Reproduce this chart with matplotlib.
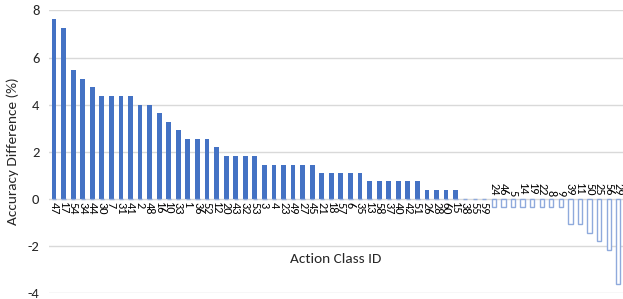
import matplotlib
matplotlib.use("Agg")
import matplotlib.pyplot as plt
import matplotlib.transforms as mtransforms

classes = ["47","17","54","34","44","30","7","31","41","2","48","16","10","33","1","36","52","12",
           "20","43","32","53","3","4","23","49","27","45","21","18","57","6","35","13","58","37",
           "40","42","51","26","28","60","15","38","55","59","24","46","5","14","19","22","8","9",
           "39","11","50","25","56","29"]
values = [7.64, 7.27, 5.45, 5.09, 4.73, 4.36, 4.36, 4.36, 4.36, 4.0, 4.0, 3.64, 3.27, 2.91,
          2.55, 2.55, 2.55, 2.18, 1.82, 1.82, 1.82, 1.82, 1.45, 1.45, 1.45, 1.45, 1.45, 1.45,
          1.09, 1.09, 1.09, 1.09, 1.09, 0.73, 0.73, 0.73, 0.73, 0.73, 0.73, 0.36, 0.36, 0.36,
          0.36, 0.0, 0.0, 0.0, -0.36, -0.36, -0.36, -0.36, -0.36, -0.36, -0.36, -0.36,
          -1.09, -1.09, -1.45, -1.82, -2.18, -3.64]
yticks = [-4, -2, 0, 2, 4, 6, 8]

plt.rcParams['font.family'] = ['Carlito', 'DejaVu Sans']
fig = plt.figure(figsize=(6.23, 2.99), dpi=100)
ax = fig.add_axes([0.079, 0.021, 0.921, 0.944])

x = list(range(len(classes)))
pos_vals = [v if v >= 0 else 0 for v in values]
neg_vals = [v if v < 0 else 0 for v in values]
ax.bar(x, pos_vals, width=0.5, color="#4472C4", zorder=3)
ax.bar(x, neg_vals, width=0.45, facecolor="white", edgecolor="#8FAADC", linewidth=1.0, zorder=3)

for i, (c, v) in enumerate(zip(classes, values)):
    if v >= 0:
        ax.text(i, -0.15, c, rotation=-90, ha='center', va='top', fontsize=8.8, color='#000000')
    else:
        ax.text(i, 0.12, c, rotation=-90, ha='center', va='bottom', fontsize=8.8, color='#000000')

ax.set_xlim(-0.5, len(classes) - 0.5)
ax.set_ylim(-4, 8)
ax.set_yticks(yticks)
ax.set_yticklabels([str(t) for t in yticks], fontsize=10.5, color='#262626')
ax.set_xticks([])
ax.tick_params(axis='y', length=0, pad=7)
ax.grid(axis='y', color='#D9D9D9', linewidth=1.0, zorder=0)
for s in ax.spines.values():
    s.set_visible(False)

ax.set_ylabel("Accuracy Difference (%)", fontsize=11, color='#262626', labelpad=6)
trans = mtransforms.blended_transform_factory(ax.transAxes, ax.transData)
ax.text(0.5, -2.55, "Action Class ID", transform=trans, ha='center', va='center',
        fontsize=11, color='#262626')

fig.savefig("out.png", dpi=100)
